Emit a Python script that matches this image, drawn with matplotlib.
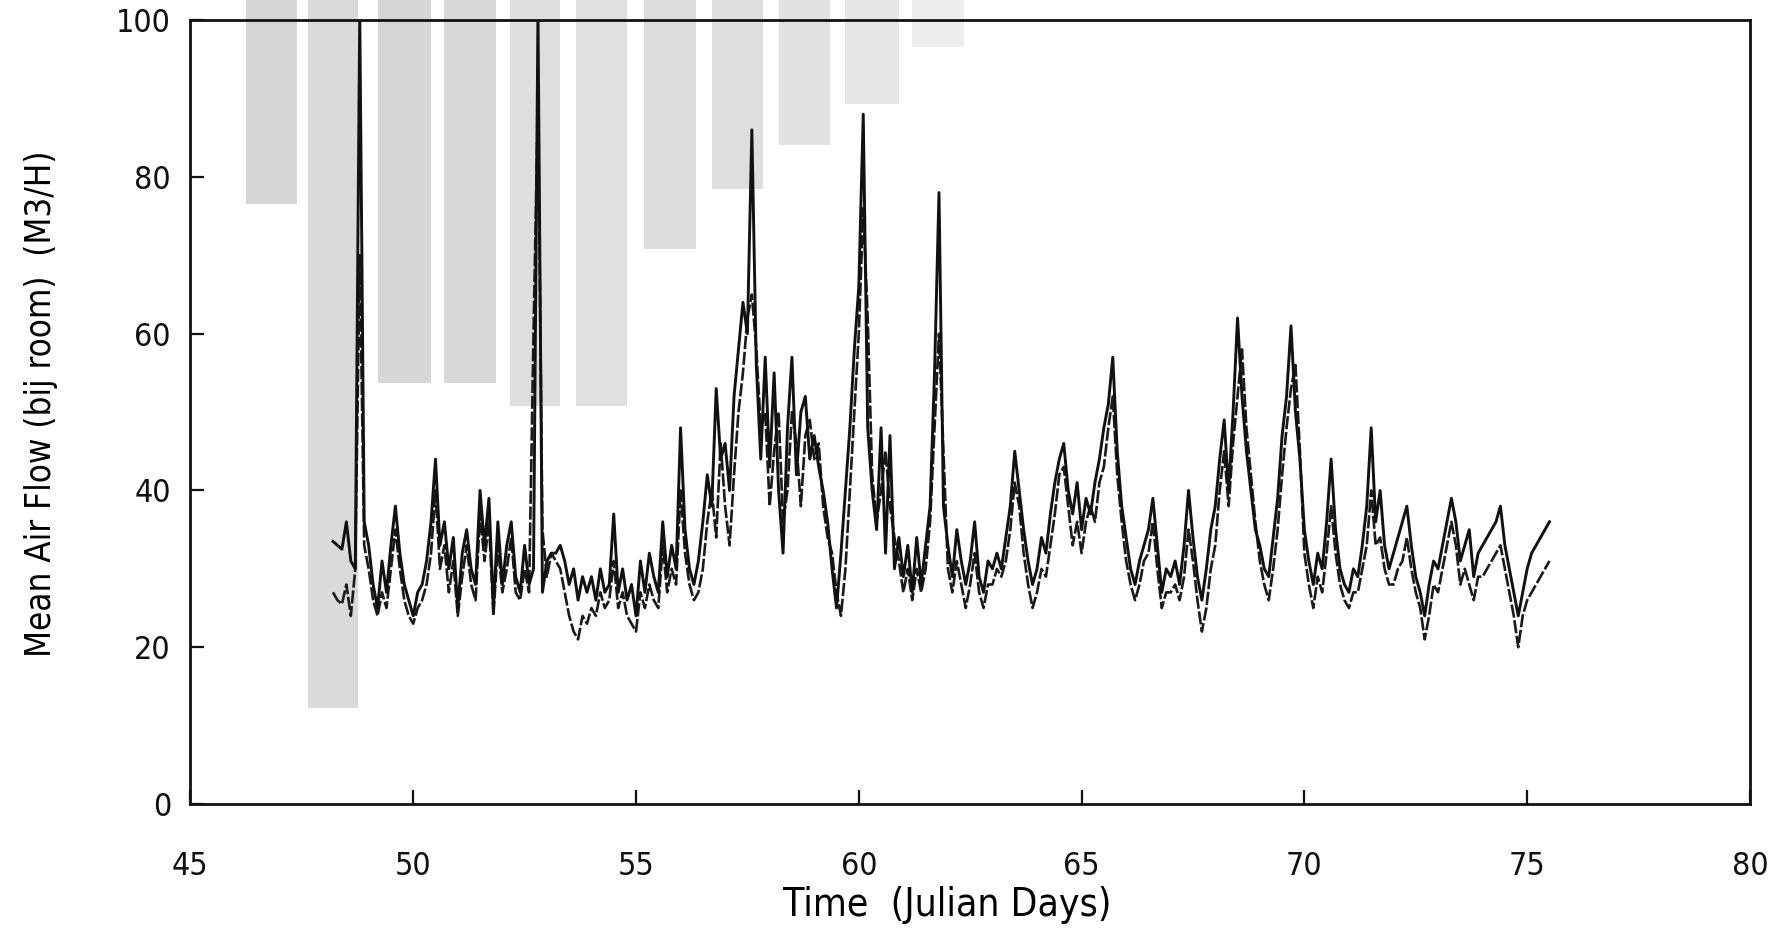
import numpy as np
import matplotlib
matplotlib.use('Agg')
import matplotlib.pyplot as plt

# time axis, 0.1 day steps from day 48.2 to 75.5
days = np.round(np.arange(48.2, 75.55, 0.1), 1)

# upper curve (solid)
flow_a = [
    33.5, 33, 32.5, 36, 31, 30, 101, 36,                  # 48.2 - 48.9
    33, 28, 25, 31, 27, 33, 38, 32, 28, 26,              # 49
    24, 27, 28, 31, 36, 44, 33, 36, 30, 34,              # 50
    25, 32, 35, 30, 28, 40, 33, 39, 25, 36,              # 51
    28, 33, 36, 29, 27, 33, 28, 30, 101, 27,             # 52
    31, 32, 32, 33, 31, 28, 30, 26, 29, 27,              # 53
    29, 26, 30, 27, 28, 37, 27, 30, 26, 28,              # 54
    24, 31, 27, 32, 29, 27, 36, 29, 33, 30,              # 55
    48, 35, 30, 28, 31, 36, 42, 38, 53, 44,              # 56
    46, 40, 52, 58, 64, 60, 86, 56, 44, 57,              # 57
    43, 55, 40, 32, 48, 57, 42, 50, 52, 44,              # 58
    47, 43, 40, 36, 30, 25, 32, 40, 48, 58,              # 59
    66, 88, 48, 40, 35, 48, 32, 47, 30, 34,              # 60
    29, 33, 27, 34, 28, 33, 38, 55, 78, 38,              # 61
    33, 29, 35, 31, 28, 31, 36, 29, 27, 31,              # 62
    30, 32, 30, 34, 38, 45, 40, 35, 31, 28,              # 63
    30, 34, 32, 37, 41, 44, 46, 40, 37, 41,              # 64
    35, 39, 37, 41, 44, 48, 51, 57, 45, 38,              # 65
    34, 30, 28, 31, 33, 35, 39, 33, 27, 30,              # 66
    29, 31, 28, 33, 40, 34, 29, 26, 30, 35,              # 67
    38, 44, 49, 40, 50, 62, 52, 45, 40, 35,              # 68
    33, 30, 29, 34, 39, 47, 52, 61, 50, 44,              # 69
    35, 31, 28, 32, 30, 36, 44, 35, 30, 28,              # 70
    27, 30, 29, 33, 38, 48, 36, 40, 33, 30,              # 71
    32, 34, 36, 38, 33, 29, 27, 24, 28, 31,              # 72
    30, 33, 36, 39, 36, 31, 33, 35, 29, 32,              # 73
    33, 34, 35, 36, 38, 33, 30, 27, 24, 27,              # 74
    30, 32, 33, 34, 35, 36,                              # 75.0 - 75.5
]

# lower curve (broken line)
flow_b = [
    27, 26, 25.5, 28, 24, 30, 70, 33,                    # 48.2 - 48.9
    30, 26, 24, 27, 25, 30, 35, 30, 26, 24,              # 49
    23, 25, 26, 28, 32, 40, 30, 33, 27, 31,              # 50
    24, 29, 33, 28, 26, 37, 31, 36, 24, 33,              # 51
    27, 30, 34, 27, 26, 30, 27, 60, 90, 35,              # 52
    29, 32, 31, 30, 27, 24, 22, 21, 24, 23,              # 53
    25, 24, 27, 25, 26, 31, 25, 27, 24, 23,              # 54
    22, 27, 25, 28, 26, 25, 33, 27, 30, 28,              # 55
    40, 32, 28, 26, 27, 30, 36, 40, 34, 46,              # 56
    38, 33, 42, 50, 55, 62, 65, 58, 48, 50,              # 57
    38, 45, 50, 36, 40, 50, 46, 38, 47, 49,              # 58
    44, 46, 38, 34, 32, 27, 24, 30, 40, 50,              # 59
    60, 76, 62, 42, 36, 40, 45, 38, 34, 31,              # 60
    27, 30, 26, 30, 27, 30, 36, 48, 60, 45,              # 61
    30, 27, 31, 28, 25, 28, 32, 27, 25, 28,              # 62
    28, 30, 29, 31, 35, 41, 38, 32, 28, 25,              # 63
    27, 30, 29, 33, 37, 42, 43, 38, 33, 36,              # 64
    32, 36, 38, 36, 41, 43, 48, 52, 42, 36,              # 65
    31, 28, 26, 28, 31, 32, 36, 30, 25, 27,              # 66
    27, 28, 26, 29, 35, 31, 26, 22, 25, 30,              # 67
    33, 40, 45, 38, 46, 52, 58, 48, 42, 36,              # 68
    31, 28, 26, 30, 35, 42, 48, 53, 56, 45,              # 69
    32, 28, 25, 29, 27, 32, 38, 32, 28, 26,              # 70
    25, 27, 27, 30, 33, 40, 33, 34, 30, 28,              # 71
    28, 30, 31, 34, 30, 27, 25, 21, 24, 28,              # 72
    27, 30, 33, 36, 33, 28, 30, 28, 26, 29,              # 73
    29, 30, 31, 32, 33, 30, 27, 24, 20, 24,              # 74
    26, 27, 28, 29, 30, 31,                              # 75.0 - 75.5
]

# faint grey blocks showing through from the other side of the page
shade_left = [46.25, 47.65, 49.2, 50.7, 52.18, 53.65, 55.18, 56.7, 58.2, 59.7, 61.2]
shade_right = [47.39, 48.77, 50.4, 51.85, 53.3, 54.8, 56.35, 57.85, 59.35, 60.9, 62.35]
shade_bottom = [76.5, 12.2, 53.7, 53.7, 50.8, 50.8, 70.8, 78.4, 84.1, 89.3, 96.6]
shade_grey = ['#d6d6d6', '#dadada', '#d6d6d6', '#d8d8d8', '#dedede', '#e0e0e0',
              '#dcdcdc', '#dedede', '#e2e2e2', '#e6e6e6', '#eeeeee']

xticks = [45, 50, 55, 60, 65, 70, 75, 80]
yticks = [0, 20, 40, 60, 80, 100]

plt.rcParams['font.family'] = ['DejaVu Sans']
plt.rcParams['font.stretch'] = 'condensed'

fig = plt.figure(figsize=(17.73, 9.41), dpi=100)
ax = fig.add_axes([0.1074, 0.1456, 0.8796, 0.8330])

for x0, x1, yb, c in zip(shade_left, shade_right, shade_bottom, shade_grey):
    ax.bar(x0, 103 - yb, width=x1 - x0, bottom=yb, align='edge',
           color=c, edgecolor='none', zorder=0, clip_on=False)

ax.plot(days, flow_b, color='#1a1a1a', lw=1.9, ls=(0, (5, 1)), zorder=2)
ax.plot(days, flow_a, color='#111111', lw=2.1, zorder=3)

ax.set_xlim(45, 80)
ax.set_ylim(0, 100)
ax.set_xticks(xticks)
ax.set_yticks(yticks)
ax.tick_params(axis='both', direction='in', length=10, width=1.6,
               labelsize=23, colors='#111111')
ax.tick_params(axis='x', pad=34)
ax.tick_params(axis='y', pad=14)

for sp in ax.spines.values():
    sp.set_linewidth(2.0)
    sp.set_color('#111111')

ax.set_xlabel('Time  (Julian Days)', fontsize=28)
ax.xaxis.set_label_coords(0.485, -0.105)
ax.set_ylabel('Mean Air Flow (bij room)  (M3/H)', fontsize=25)
ax.yaxis.set_label_coords(-0.085, 0.51)

fig.savefig('out.png', dpi=100)
